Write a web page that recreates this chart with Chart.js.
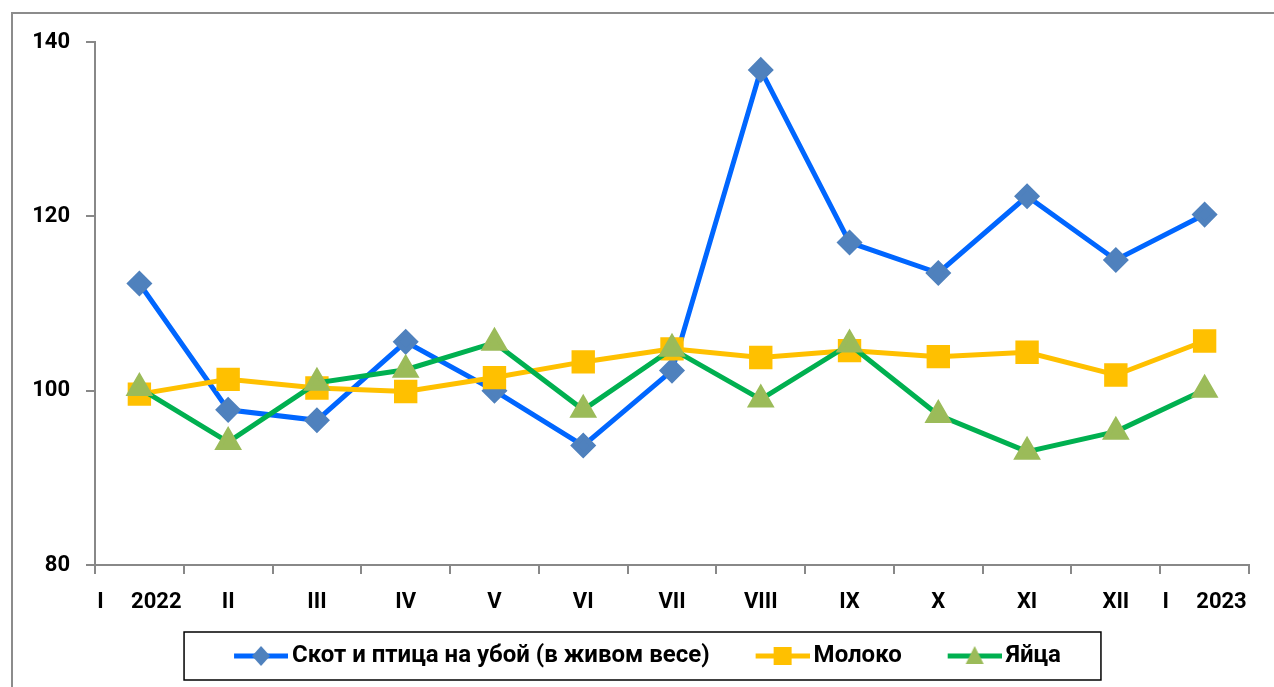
<!DOCTYPE html>
<html>
<head>
<meta charset="utf-8">
<script src="https://cdn.jsdelivr.net/npm/chart.js@4/dist/chart.umd.min.js"></script>
<style>
  html, body { margin: 0; padding: 0; background: #fff; }
  #wrap { width: 1274px; height: 687px; }
</style>
</head>
<body>
<div id="wrap"><canvas id="priceChart" width="1274" height="687"></canvas></div>
<script>
const months = ["I     2022", "II", "III", "IV", "V", "VI", "VII", "VIII", "IX", "X", "XI", "XII", "I     2023"];
const livestock = [112.3, 97.8, 96.6, 105.6, 100.0, 93.7, 102.3, 136.8, 117.0, 113.5, 122.3, 115.0, 120.2];
const milk = [99.6, 101.3, 100.3, 99.9, 101.5, 103.3, 104.8, 103.8, 104.6, 103.9, 104.4, 101.8, 105.7];
const eggs = [100.3, 94.1, 100.9, 102.4, 105.5, 97.8, 104.8, 99.0, 105.3, 97.2, 93.0, 95.3, 100.1];
const yTicks = [80, 100, 120, 140];

const font = "Roboto, 'Liberation Sans', sans-serif";
const axisColor = '#888888';

// legend picture: blank lead-in, then line + marker (line ends at right edge)
function legendIcon(lineColor, markerColor, shape) {
  const c = document.createElement('canvas');
  c.width = 88; c.height = 24;
  const g = c.getContext('2d');
  const x0 = 34, x1 = 88, mx = 61;
  g.strokeStyle = lineColor;
  g.lineWidth = 5;
  g.beginPath(); g.moveTo(x0, 12); g.lineTo(x1, 12); g.stroke();
  g.fillStyle = markerColor;
  g.beginPath();
  if (shape === 'diamond') {
    g.moveTo(mx, 2); g.lineTo(mx + 9, 12); g.lineTo(mx, 22); g.lineTo(mx - 9, 12);
  } else if (shape === 'square') {
    g.rect(mx - 9, 3, 18, 18);
  } else {
    g.moveTo(mx, 2); g.lineTo(mx + 9, 20); g.lineTo(mx - 9, 20);
  }
  g.closePath(); g.fill();
  return c;
}

const icons = [
  legendIcon('#0066FF', '#4F81BD', 'diamond'),
  legendIcon('#FFC000', '#FFC000', 'square'),
  legendIcon('#00B050', '#9BBB59', 'triangle')
];

const frame = {
  id: 'frame',
  beforeDraw(chart) {
    const ctx = chart.ctx;
    ctx.save();
    ctx.strokeStyle = '#8c8c8c';
    ctx.lineWidth = 2;
    ctx.strokeRect(12, 13, chart.width + 20, chart.height + 20);
    ctx.restore();
  },
  afterDraw(chart) {
    const boxes = chart.legend.legendHitBoxes;
    if (!boxes || !boxes.length) return;
    let l = Infinity, r = -Infinity, t = Infinity, b = -Infinity;
    boxes.forEach(h => {
      l = Math.min(l, h.left); r = Math.max(r, h.left + h.width);
      t = Math.min(t, h.top); b = Math.max(b, h.top + h.height);
    });
    const cy = (t + b) / 2;
    const ctx = chart.ctx;
    ctx.save();
    ctx.strokeStyle = '#000';
    ctx.lineWidth = 1.5;
    ctx.strokeRect(l - 24, cy - 24, (r - l) + 64, 48);
    ctx.restore();
  }
};

new Chart(document.getElementById('priceChart'), {
  type: 'line',
  data: {
    labels: months,
    datasets: [
      {
        label: 'Скот и птица на убой (в живом весе)',
        data: livestock,
        borderColor: '#0066FF',
        backgroundColor: '#4F81BD',
        pointBackgroundColor: '#4F81BD',
        pointBorderColor: '#4F81BD',
        pointStyle: 'rectRot',
        pointRadius: 9.5,
        borderWidth: 5,
        tension: 0,
        order: 3
      },
      {
        label: 'Молоко',
        data: milk,
        borderColor: '#FFC000',
        backgroundColor: '#FFC000',
        pointBackgroundColor: '#FFC000',
        pointBorderColor: '#FFC000',
        pointStyle: 'rect',
        pointRadius: 13,
        borderWidth: 5,
        tension: 0,
        order: 2
      },
      {
        label: 'Яйца',
        data: eggs,
        borderColor: '#00B050',
        backgroundColor: '#9BBB59',
        pointBackgroundColor: '#9BBB59',
        pointBorderColor: '#9BBB59',
        pointStyle: 'triangle',
        pointRadius: 11,
        borderWidth: 5,
        tension: 0,
        order: 1
      }
    ]
  },
  options: {
    responsive: false,
    animation: false,
    layout: { padding: { left: 20, right: 25, top: 42, bottom: 9 } },
    plugins: {
      tooltip: { enabled: false },
      legend: {
        position: 'bottom',
        labels: {
          usePointStyle: true,
          pointStyleWidth: 72,
          padding: 20,
          color: '#000',
          font: { family: font, size: 24, weight: 'bold' },
          sort: (a, b) => a.datasetIndex - b.datasetIndex,
          generateLabels(chart) {
            return chart.data.datasets.map((ds, i) => ({
              text: ds.label,
              datasetIndex: i,
              pointStyle: icons[i],
              fillStyle: ds.backgroundColor,
              strokeStyle: ds.borderColor,
              lineWidth: 0,
              hidden: false,
              fontColor: '#000'
            }));
          }
        }
      }
    },
    scales: {
      x: {
        offset: true,
        border: { color: axisColor, width: 2 },
        grid: { offset: true, drawOnChartArea: false, drawTicks: true, tickLength: 9, color: axisColor, lineWidth: 2 },
        ticks: {
          autoSkip: false, maxRotation: 0, padding: 15, color: '#000',
          font: { family: font, size: 22, weight: 'bold' }
        },
        afterFit(scale) { scale.height = 59; }
      },
      y: {
        min: 80,
        max: 140,
        afterBuildTicks(scale) { scale.ticks = yTicks.map(v => ({ value: v })); },
        border: { color: axisColor, width: 2 },
        grid: { drawOnChartArea: false, drawTicks: true, tickLength: 9, color: axisColor, lineWidth: 2 },
        ticks: {
          padding: 16, color: '#000',
          font: { family: font, size: 22, weight: 'bold' }
        },
        afterFit(scale) { scale.width = 75; }
      }
    }
  },
  plugins: [frame]
});
</script>
</body>
</html>
